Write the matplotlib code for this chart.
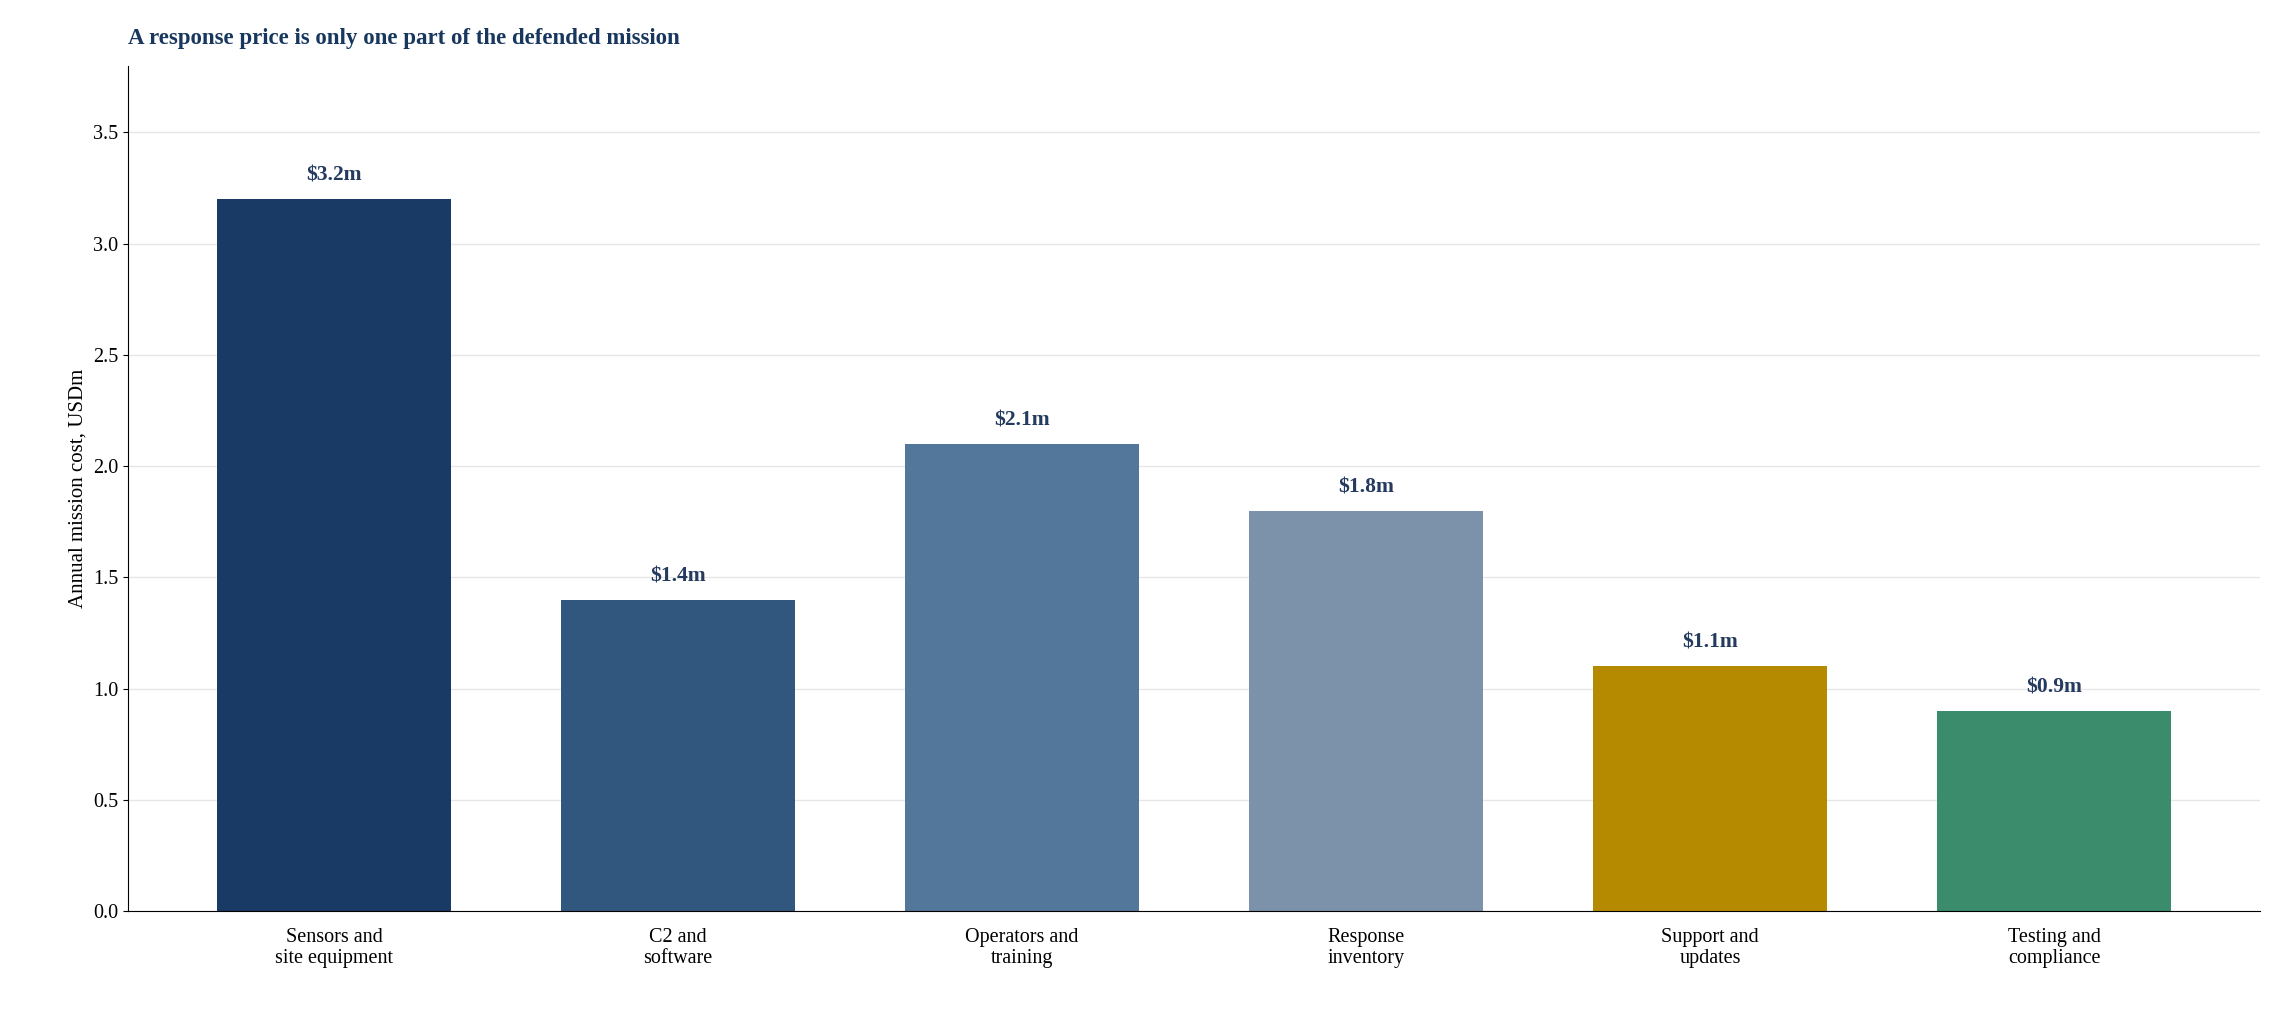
import matplotlib
matplotlib.use("Agg")
import matplotlib.pyplot as plt

categories = ["Sensors and\nsite equipment", "C2 and\nsoftware", "Operators and\ntraining",
              "Response\ninventory", "Support and\nupdates", "Testing and\ncompliance"]
values = [3.2, 1.4, 2.1, 1.8, 1.1, 0.9]
labels = ["$3.2m", "$1.4m", "$2.1m", "$1.8m", "$1.1m", "$0.9m"]
colors = ["#1a3a66", "#31577f", "#52779b", "#7b92aa", "#b58900", "#3b8b6d"]

plt.rcParams['font.family'] = ['Liberation Serif', 'DejaVu Serif']
fig = plt.figure(figsize=(22.81, 10.27), dpi=100)
ax = fig.add_axes([0.056, 0.113, 0.935, 0.823])
x = range(len(categories))
ax.bar(x, values, width=0.68, color=colors, zorder=2)
for i, (v, l) in enumerate(zip(values, labels)):
    ax.text(i, v + 0.06, l, ha='center', va='bottom', fontsize=15.5, fontweight='bold', color='#243a5e')
ax.set_xticks(list(x))
ax.set_xticklabels(categories, fontsize=14.5)
ax.set_ylim(0, 3.8)
ax.set_xlim(-0.6, 5.6)
ax.set_yticks([0, 0.5, 1, 1.5, 2, 2.5, 3, 3.5])
ax.set_yticklabels([f"{t:.1f}" for t in [0, 0.5, 1, 1.5, 2, 2.5, 3, 3.5]], fontsize=14.5)
ax.set_ylabel("Annual mission cost, USDm", fontsize=15)
ax.yaxis.grid(True, color='#e6e6e6', linewidth=1, zorder=0)
ax.spines['top'].set_visible(False)
ax.spines['right'].set_visible(False)
ax.tick_params(axis='x', length=0, pad=12)
ax.text(0.0, 1.02, "A response price is only one part of the defended mission", transform=ax.transAxes,
        fontsize=16.5, fontweight='bold', color='#17375e', ha='left', va='bottom')
fig.savefig("out.png", dpi=100)
